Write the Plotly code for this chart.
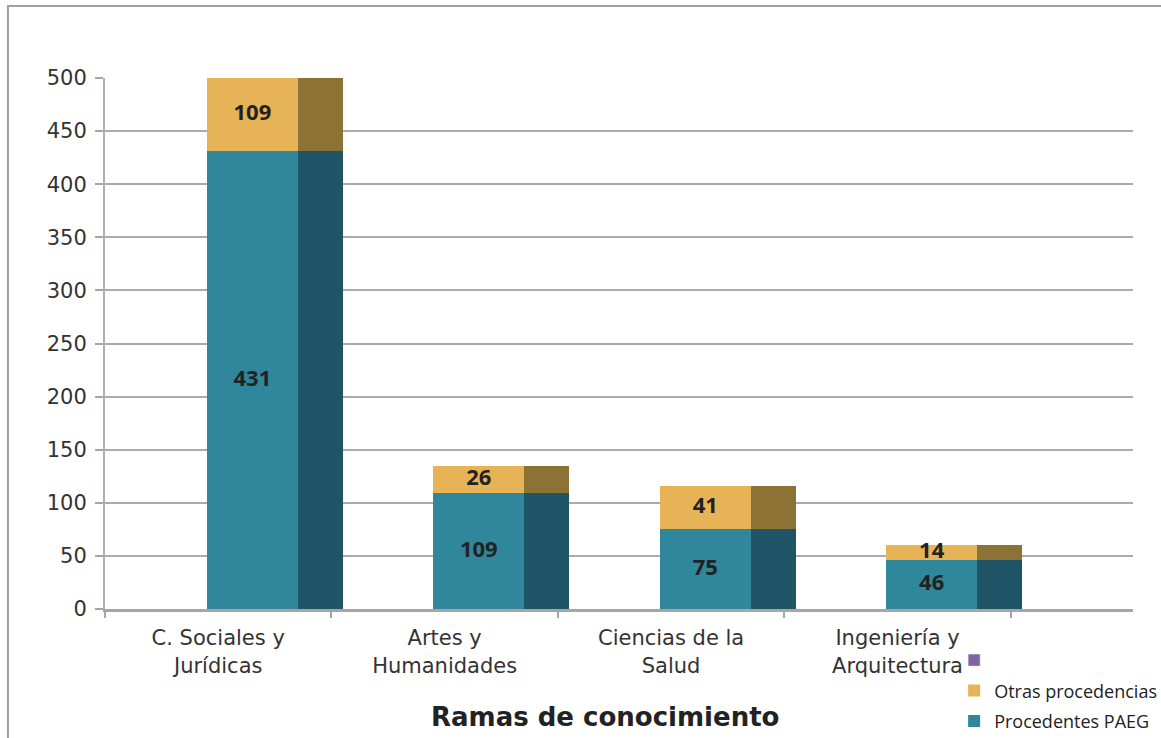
import plotly.graph_objects as go

categories = ["C. Sociales y<br>Jurídicas", "Artes y<br>Humanidades", "Ciencias de la<br>Salud", "Ingeniería y<br>Arquitectura"]
paeg = [431, 109, 75, 46]
otras = [109, 26, 41, 14]
series_names = ["Procedentes PAEG", "Otras procedencias"]
y_ticks = [0, 50, 100, 150, 200, 250, 300, 350, 400, 450, 500]
Y_MAX = 500

TEAL = "#30879C"
TEAL_D = "#1F5566"
GOLD = "#E6B456"
GOLD_D = "#8D7236"
PURPLE = "#8064A2"

FRONT_POS, FRONT_W = 0.651, 0.402
SIDE_POS, SIDE_W = 0.951, 0.199

n = len(categories)
xf = [i + FRONT_POS for i in range(n)]
xs = [i + SIDE_POS for i in range(n)]

fig = go.Figure()
fig.add_trace(go.Bar(x=xf, y=paeg, width=FRONT_W, name=series_names[0], marker=dict(color=TEAL, line=dict(width=0)),
                     legendrank=3, legendgroup="a", hoverinfo="y"))
fig.add_trace(go.Bar(x=xf, y=otras, width=FRONT_W, name=series_names[1], marker=dict(color=GOLD, line=dict(width=0)),
                     legendrank=2, legendgroup="b", hoverinfo="y"))
fig.add_trace(go.Bar(x=xs, y=paeg, width=SIDE_W, marker=dict(color=TEAL_D, line=dict(width=0)), showlegend=False,
                     hoverinfo="skip"))
fig.add_trace(go.Bar(x=xs, y=otras, width=SIDE_W, marker=dict(color=GOLD_D, line=dict(width=0)), showlegend=False,
                     hoverinfo="skip"))
fig.add_trace(go.Bar(x=[None], y=[None], name=" ", marker=dict(color=PURPLE), legendrank=1, legendgroup="c"))

# data labels centred in the visible part of each segment
lab_x, lab_y, lab_t = [], [], []
for i in range(n):
    base = 0
    for v in (paeg[i], otras[i]):
        top = min(base + v, Y_MAX)
        lab_x.append(xf[i])
        lab_y.append((base + top) / 2)
        lab_t.append(str(v))
        base += v
fig.add_trace(go.Scatter(x=lab_x, y=lab_y, text=lab_t, mode="text", showlegend=False, hoverinfo="skip",
                         cliponaxis=False,
                         textfont=dict(family="Open Sans", size=22, color="#222222", weight="bold")))

fig.update_layout(
    width=1161, height=738,
    margin=dict(l=105, r=28, t=78, b=129, autoexpand=False),
    barmode="stack",
    plot_bgcolor="white", paper_bgcolor="white",
    font=dict(family="DejaVu Sans", color="#333333"),
    showlegend=True,
    legend=dict(x=0.826, y=-0.062, xanchor="left", yanchor="top", traceorder="grouped",
                tracegroupgap=4, font=dict(family="Open Sans", size=18, color="#222222"),
                bgcolor="rgba(0,0,0,0)"),
    xaxis=dict(range=[0, 4.54], tickvals=[i + 0.5 for i in range(n)], ticktext=categories,
               ticks="", showgrid=False, zeroline=False, showline=True, linecolor="#A6A6A6", linewidth=3,
               tickfont=dict(family="DejaVu Sans", size=21, color="#333333"), ticklabelstandoff=8,
               minor=dict(tick0=0, dtick=1, ticks="outside", ticklen=6, tickcolor="#A6A6A6", tickwidth=2,
                          showgrid=False)),
    yaxis=dict(range=[0, Y_MAX], tickvals=y_ticks, showgrid=True, gridcolor="#ABABAB", gridwidth=2,
               zeroline=False, showline=True, linecolor="#B0B0B0", linewidth=2, ticks="outside",
               ticklen=8, tickcolor="#A6A6A6", tickwidth=2,
               tickfont=dict(family="DejaVu Sans", size=21, color="#333333"), ticklabelstandoff=4),
    annotations=[dict(text="<b>Ramas de conocimiento</b>", xref="paper", yref="paper", x=0.486, y=-0.203,
                      xanchor="center", yanchor="middle", showarrow=False,
                      font=dict(family="DejaVu Sans", size=26, color="#222222"))],
    shapes=[dict(type="rect", xref="paper", yref="paper", x0=-0.0944, x1=1.3, y0=-0.5, y1=1.1356,
                 line=dict(color="#A0A0A0", width=2), layer="below")],
)

fig.write_html("out.html", config={"displayModeBar": False},
               post_script="document.body.style.margin='0';document.body.style.overflow='hidden';")
